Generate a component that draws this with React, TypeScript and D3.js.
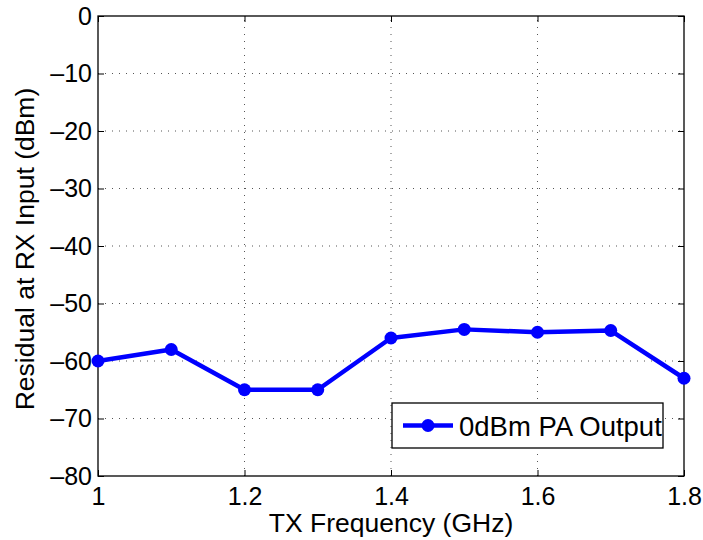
import * as d3 from "d3";
import { useEffect, useRef } from "react";

const freqs = [1.0, 1.1, 1.2, 1.3, 1.4, 1.5, 1.6, 1.7, 1.8];
const residual = [-60, -58, -65, -65, -56, -54.5, -55, -54.7, -63];
const xTicks = [1, 1.2, 1.4, 1.6, 1.8];
const yTicks = [0, -10, -20, -30, -40, -50, -60, -70, -80];
const seriesName = "0dBm PA Output";

export default function App() {
  const svgRef = useRef<SVGSVGElement | null>(null);

  useEffect(() => {
    if (!svgRef.current) return;
    const width = 703;
    const height = 540;
    const margin = { top: 16, right: 19, bottom: 64, left: 98 };
    const font = "'Liberation Sans', Arial, sans-serif";

    const svg = d3.select(svgRef.current);
    svg.selectAll("*").remove();
    svg.attr("width", width).attr("height", height);

    svg.append("rect").attr("width", width).attr("height", height).attr("fill", "#fff");

    const x = d3.scaleLinear().domain([1, 1.8]).range([margin.left, width - margin.right]);
    const y = d3.scaleLinear().domain([-80, 0]).range([height - margin.bottom, margin.top]);
    const [x0, x1] = x.range();
    const [y0, y1] = y.range();

    // dotted grid
    const grid = svg.append("g").attr("stroke", "#555").attr("stroke-width", 1).attr("stroke-dasharray", "1,6");
    xTicks.slice(1, -1).forEach((t) => {
      grid.append("line").attr("x1", x(t)).attr("x2", x(t)).attr("y1", y0).attr("y2", y1);
    });
    yTicks.slice(1, -1).forEach((t) => {
      grid.append("line").attr("x1", x0).attr("x2", x1).attr("y1", y(t)).attr("y2", y(t));
    });

    const axisStyle = (g: any) => {
      g.select(".domain").remove();
      g.selectAll("line").attr("stroke", "#000");
      g.selectAll("text").attr("fill", "#000").attr("font-size", 25).attr("font-family", font);
    };

    svg.append("g").attr("transform", `translate(0,${y0})`)
      .call(d3.axisBottom(x).tickValues(xTicks).tickSize(-6).tickPadding(11).tickFormat((d) => `${d}`) as any)
      .call(axisStyle);
    svg.append("g").attr("transform", `translate(0,${y1})`)
      .call(d3.axisTop(x).tickValues(xTicks).tickSize(-6).tickFormat(() => "") as any)
      .call(axisStyle);
    svg.append("g").attr("transform", `translate(${x0},0)`)
      .call(d3.axisLeft(y).tickValues(yTicks).tickSize(-6).tickPadding(6).tickFormat((d) => `${d}`.replace("-", "\u2013")) as any)
      .call(axisStyle);
    svg.append("g").attr("transform", `translate(${x1},0)`)
      .call(d3.axisRight(y).tickValues(yTicks).tickSize(-6).tickFormat(() => "") as any)
      .call(axisStyle);

    svg.append("rect")
      .attr("x", x0).attr("y", y1).attr("width", x1 - x0).attr("height", y0 - y1)
      .attr("fill", "none").attr("stroke", "#000").attr("stroke-width", 1.3);

    const pts = freqs.map((f, i) => [f, residual[i]] as [number, number]);
    const line = d3.line<[number, number]>().x((d) => x(d[0])).y((d) => y(d[1]));
    svg.append("path").datum(pts).attr("d", line).attr("fill", "none")
      .attr("stroke", "#0000ff").attr("stroke-width", 4.5).attr("stroke-linejoin", "round");
    svg.append("g").selectAll("circle").data(pts).join("circle")
      .attr("cx", (d) => x(d[0])).attr("cy", (d) => y(d[1])).attr("r", 6.5).attr("fill", "#0000ff");

    // legend
    const lg = svg.append("g").attr("transform", "translate(392,403)");
    lg.append("rect").attr("width", 271).attr("height", 45).attr("fill", "#fff").attr("stroke", "#000").attr("stroke-width", 1.3);
    lg.append("line").attr("x1", 11).attr("x2", 61).attr("y1", 22.5).attr("y2", 22.5).attr("stroke", "#0000ff").attr("stroke-width", 4.5);
    lg.append("circle").attr("cx", 36).attr("cy", 22.5).attr("r", 6.5).attr("fill", "#0000ff");
    lg.append("text").attr("x", 67).attr("y", 33).attr("font-size", 27.5).attr("font-family", font).text(seriesName);

    svg.append("text")
      .attr("x", (x0 + x1) / 2).attr("y", 532).attr("text-anchor", "middle")
      .attr("font-size", 26.5).attr("font-family", font).text("TX Frequency (GHz)");
    svg.append("text")
      .attr("transform", `translate(34,${(y0 + y1) / 2 + 3}) rotate(-90)`).attr("text-anchor", "middle")
      .attr("font-size", 26.5).attr("font-family", font).text("Residual at RX Input (dBm)");
  }, []);

  return (
    <svg ref={svgRef} style={{ position: "absolute", left: 0, top: 0 }} />
  );
}
